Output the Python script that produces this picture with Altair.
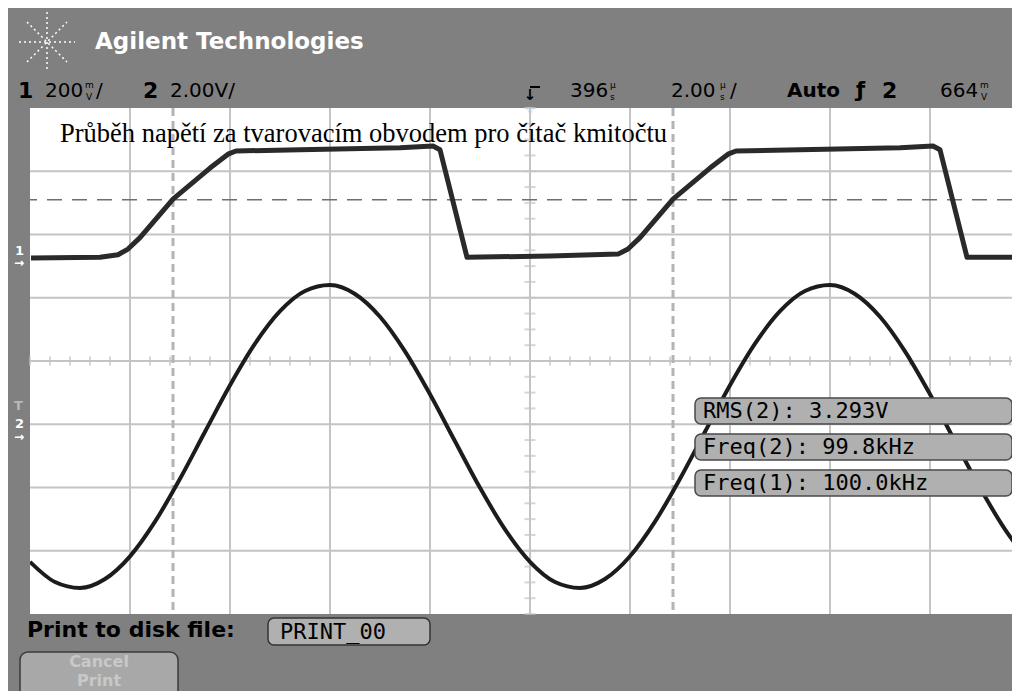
import altair as alt
import pandas as pd
import numpy as np

# ---------------- data (time in microseconds, level in screen divisions) -------------
ch1_t = [-9.98, -8.6, -8.24, -8.04, -7.8, -7.14, -6.4, -6.04, -5.88, -4.6, -2.6, -1.94,
         -1.8, -1.26, 0.4, 1.76, 1.96, 2.2, 2.86, 3.6, 3.96, 4.12, 5.4, 7.4, 8.06, 8.2,
         8.74, 9.64]
ch1_v = [1.63, 1.64, 1.68, 1.77, 1.95, 2.56, 3.05, 3.27, 3.32, 3.34, 3.37, 3.40,
         3.34, 1.64, 1.66, 1.69, 1.77, 1.95, 2.56, 3.05, 3.27, 3.32, 3.34, 3.37, 3.40, 3.34,
         1.64, 1.64]

ch2_t = [-10.0, -9.5, -9.0, -8.5, -8.0, -7.5, -7.0, -6.5, -6.0, -5.5, -5.0, -4.5, -4.0,
         -3.5, -3.0, -2.5, -2.0, -1.5, -1.0, -0.5, 0.0, 0.5, 1.0, 1.5, 2.0, 2.5, 3.0, 3.5,
         4.0, 4.5, 5.0, 5.5, 6.0, 6.5, 7.0, 7.5, 8.0, 8.5, 9.0, 9.5, 9.8]
ch2_v = [-3.175, -3.494, -3.588, -3.447, -3.088, -2.540, -1.862, -1.119, -0.383, 0.274,
         0.787, 1.106, 1.200, 1.059, 0.699, 0.152, -0.526, -1.269, -2.005, -2.662, -3.175,
         -3.494, -3.588, -3.447, -3.087, -2.540, -1.862, -1.119, -0.383, 0.274, 0.787,
         1.106, 1.200, 1.059, 0.699, 0.152, -0.526, -1.269, -2.005, -2.662, -2.991]

grid_x = [-8, -6, -4, -2, 0, 2, 4, 6, 8]
grid_y = [-3, -2, -1, 0, 1, 2, 3]
cursor_x = [-7.14, 2.86]
cursor_y = [2.55]
minor_x = [round(v, 2) for v in np.arange(-10, 9.7, 0.4)]
minor_y = [round(v, 2) for v in np.arange(-4, 4.01, 0.25)]

title_text = "Průběh napětí za tvarovacím obvodem pro čítač kmitočtu"
meas_labels = ["RMS(2): 3.293V", "Freq(2): 99.8kHz", "Freq(1): 100.0kHz"]

# ---------------- scales ----------------
xs = alt.Scale(domain=[-10, 9.64], nice=False, zero=False)
ys = alt.Scale(domain=[-4, 4], nice=False, zero=False)

GRID = "#c4c4c4"
UI = "DejaVu Sans"
MONO = "DejaVu Sans Mono"

one = pd.DataFrame({"k": [0]})

def txt(s, x, y, size, color="black", weight="normal", font=UI, align="left"):
    return alt.Chart(one).mark_text(
        text=s, align=align, baseline="middle", fontSize=size, fontWeight=weight,
        font=font, color=color
    ).encode(x=alt.value(x), y=alt.value(y))

def rule_px(x, y, x2, y2, color, width, dash=None):
    kw = dict(color=color, strokeWidth=width)
    if dash:
        kw["strokeDash"] = dash
    return alt.Chart(one).mark_rule(**kw).encode(
        x=alt.value(x), y=alt.value(y), x2=alt.value(x2), y2=alt.value(y2))

def box_px(x, y, x2, y2, fill, stroke, r=6):
    return alt.Chart(one).mark_rect(fill=fill, stroke=stroke, strokeWidth=1.5,
                                    cornerRadius=r).encode(
        x=alt.value(x), y=alt.value(y), x2=alt.value(x2), y2=alt.value(y2))

layers = []

# grid
layers.append(alt.Chart(pd.DataFrame({"t": grid_x})).mark_rule(color=GRID, strokeWidth=2)
              .encode(x=alt.X("t:Q", scale=xs, axis=None)))
layers.append(alt.Chart(pd.DataFrame({"v": grid_y})).mark_rule(color=GRID, strokeWidth=2)
              .encode(y=alt.Y("v:Q", scale=ys, axis=None)))
# minor ticks on centre lines
layers.append(alt.Chart(pd.DataFrame({"t": minor_x, "v": [0] * len(minor_x)}))
              .mark_tick(orient="vertical", size=9, thickness=2, color=GRID)
              .encode(x=alt.X("t:Q", scale=xs, axis=None), y=alt.Y("v:Q", scale=ys, axis=None)))
layers.append(alt.Chart(pd.DataFrame({"t": [0] * len(minor_y), "v": minor_y}))
              .mark_tick(orient="horizontal", size=11, thickness=2, color=GRID)
              .encode(x=alt.X("t:Q", scale=xs, axis=None), y=alt.Y("v:Q", scale=ys, axis=None)))
# cursors
layers.append(alt.Chart(pd.DataFrame({"t": cursor_x}))
              .mark_rule(color="#b4b4b4", strokeWidth=3, strokeDash=[8, 5])
              .encode(x=alt.X("t:Q", scale=xs, axis=None)))
layers.append(alt.Chart(pd.DataFrame({"v": cursor_y}))
              .mark_rule(color="#6e6e6e", strokeWidth=1.6, strokeDash=[15, 10])
              .encode(y=alt.Y("v:Q", scale=ys, axis=None)))

# traces
layers.append(alt.Chart(pd.DataFrame({"t": ch2_t, "v": ch2_v}))
              .mark_line(color="#1c1c1c", strokeWidth=4, interpolate="monotone", clip=True)
              .encode(x=alt.X("t:Q", scale=xs, axis=None), y=alt.Y("v:Q", scale=ys, axis=None),
                      order="t:Q"))
layers.append(alt.Chart(pd.DataFrame({"t": ch1_t, "v": ch1_v}))
              .mark_line(color="#2a2a2a", strokeWidth=5, strokeJoin="round", clip=True)
              .encode(x=alt.X("t:Q", scale=xs, axis=None), y=alt.Y("v:Q", scale=ys, axis=None),
                      order="t:Q"))

# title inside screen
layers.append(alt.Chart(one).mark_text(
    text=title_text, align="left", baseline="alphabetic", fontSize=26.5,
    font="Liberation Serif", color="black").encode(x=alt.value(30), y=alt.value(34)))

# measurement boxes
for i, lab in enumerate(meas_labels):
    y0 = 290 + 36 * i
    layers.append(box_px(665, y0, 982, y0 + 26, "#b0b0b0", "#4a4a4a"))
    layers.append(txt(lab, 673, y0 + 13, 22, font=MONO))

# ---------------- header ----------------
cx, cy = 17, -66
layers.append(rule_px(cx - 28, cy, cx + 28, cy, "white", 1.5, [2, 3]))
layers.append(rule_px(cx, cy - 30, cx, cy + 30, "white", 1.5, [2, 3]))
layers.append(rule_px(cx - 20, cy - 20, cx + 20, cy + 20, "white", 1.5, [2, 3]))
layers.append(rule_px(cx - 20, cy + 20, cx + 20, cy - 20, "white", 1.5, [2, 3]))
layers.append(txt("Agilent Technologies", 65, -66, 23, color="white", weight="bold"))

ry = -17
layers.append(txt("1", -12, ry, 22, weight="bold"))
layers.append(txt("200", 15, ry, 20))
layers.append(txt("m", 55, ry - 6, 9))
layers.append(txt("V", 56, ry + 6, 9))
layers.append(txt("/", 66, ry, 20))
layers.append(txt("2", 113, ry, 22, weight="bold"))
layers.append(txt("2.00V/", 140, ry, 20))
# trigger position marker
layers.append(rule_px(500, -21, 510, -21, "black", 2))
layers.append(txt("↓", 500, -13, 15, weight="bold", align="center"))
layers.append(txt("▽", 500, 3, 10, color="#c8c8c8", align="center"))
layers.append(txt("396", 540, ry, 20))
layers.append(txt("µ", 580, ry - 6, 9))
layers.append(txt("s", 580, ry + 6, 9))
layers.append(txt("2.00", 641, ry, 20))
layers.append(txt("µ", 690, ry - 6, 9))
layers.append(txt("s", 690, ry + 6, 9))
layers.append(txt("/", 700, ry, 20))
layers.append(txt("Auto", 757, ry, 20, weight="bold"))
layers.append(txt("ƒ", 826, ry, 21, weight="bold"))
layers.append(txt("2", 852, ry, 22, weight="bold"))
layers.append(txt("664", 910, ry, 20))
layers.append(txt("m", 950, ry - 6, 9))
layers.append(txt("V", 951, ry + 6, 9))

# channel markers on the left strip
layers.append(txt("1", -15, 143, 13, color="white", weight="bold"))
layers.append(txt("→", -16, 155, 12, color="white", weight="bold"))
layers.append(txt("T", -16, 298, 13, color="#b8b8b8", weight="bold"))
layers.append(txt("2", -15, 316, 13, color="white", weight="bold"))
layers.append(txt("→", -16, 329, 12, color="white", weight="bold"))

# ---------------- bottom ----------------
layers.append(txt("Print to disk file:", -3, 522, 22, weight="bold"))
layers.append(box_px(238, 510, 400, 537, "#b0b0b0", "#333333"))
layers.append(txt("PRINT_00", 250, 524, 22, font=MONO))
layers.append(box_px(-10, 544, 148, 610, "#a8a8a8", "#3a3a3a", r=8))
layers.append(txt("Cancel", 69, 554, 16, color="#c8c8c8", weight="bold", align="center"))
layers.append(txt("Print", 69, 573, 16, color="#c8c8c8", weight="bold", align="center"))

chart = alt.layer(*layers).properties(
    width=982, height=506,
    padding={"left": 22, "top": 100, "right": 0, "bottom": 77},
    autosize="none",
).configure(background="#808080").configure_view(fill="white", strokeWidth=0)

chart.save("out.html", embed_options={"renderer": "svg", "actions": False})
